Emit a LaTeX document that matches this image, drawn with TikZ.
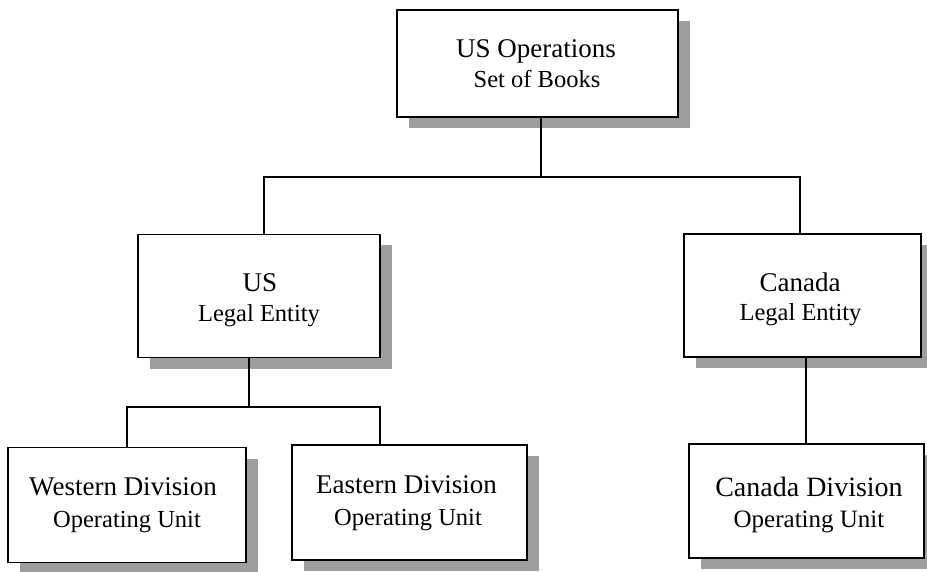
\documentclass[tikz,border=0pt]{standalone}
\usepackage{fontspec}
\setmainfont{Liberation Serif}
\usetikzlibrary{shadows}
\tikzset{
  orgbox/.style={draw, line width=1.7pt, fill=white, inner sep=0pt,
    drop shadow={shadow xshift=12pt, shadow yshift=-11pt, fill=black!38, opacity=1}},
  conn/.style={line width=1.7pt},
  mainl/.style={anchor=base, inner sep=0pt, font=\fontsize{27}{27}\selectfont},
  subln/.style={anchor=base, inner sep=0pt, font=\fontsize{24.5}{24.5}\selectfont},
}
\begin{document}
\begin{tikzpicture}[x=1pt,y=-1pt]
\useasboundingbox (0,0) rectangle (927,572);
\node[orgbox, minimum width=281pt, minimum height=107pt] (top) at (537.5,63.5) {};
\node[orgbox, minimum width=242pt, minimum height=123pt] (us) at (259,296) {};
\node[orgbox, minimum width=237pt, minimum height=123pt] (ca) at (802.5,295.5) {};
\node[orgbox, minimum width=238pt, minimum height=115pt] (west) at (127,505) {};
\node[orgbox, minimum width=235pt, minimum height=115pt] (east) at (409.5,502.5) {};
\node[orgbox, minimum width=235pt, minimum height=114pt] (cadiv) at (806.5,501) {};
% texts
\node[mainl] (top1) at (536,58) {US Operations};
\node[subln] (top2) at (537,88) {Set of Books};
\node[mainl] (us1) at (260,292) {US};
\node[subln] (us2) at (259,321) {Legal Entity};
\node[mainl] (ca1) at (800,292) {Canada};
\node[subln] (ca2) at (800.5,320) {Legal Entity};
\node[mainl] (west1) at (123,495) {Western Division};
\node[subln] (west2) at (127,527) {Operating Unit};
\node[mainl] (east1) at (406.5,493) {Eastern Division};
\node[subln] (east2) at (408,525) {Operating Unit};
\node[mainl, font=\fontsize{28}{28}\selectfont] (cadiv1) at (809,496) {Canada Division};
\node[subln, font=\fontsize{25}{25}\selectfont] (cadiv2) at (809,527) {Operating Unit};
% connectors
\coordinate (j1) at (541,177);
\coordinate (hl) at (264,177);
\coordinate (hr) at (800,177);
\coordinate (j2) at (249,407);
\coordinate (bl) at (127,407);
\coordinate (br) at (380,407);
\coordinate (j3) at (806,400);
\draw[conn] (j1 |- top.south) -- (j1);
\draw[conn] (hl |- us.north) -- (hl) -- (hr) -- (hr |- ca.north);
\draw[conn] (j2 |- us.south) -- (j2);
\draw[conn] (bl |- west.north) -- (bl) -- (br) -- (br |- east.north);
\draw[conn] (j3 |- ca.south) -- (j3 |- cadiv.north);
\end{tikzpicture}
\end{document}
